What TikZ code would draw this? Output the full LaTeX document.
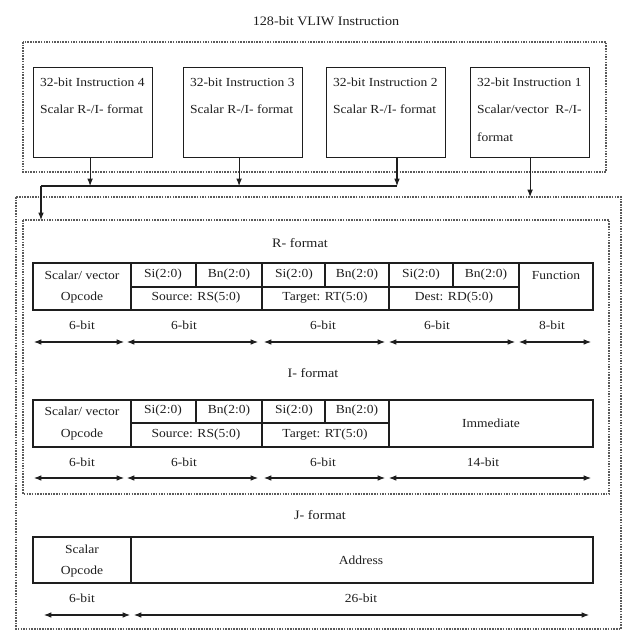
\documentclass[tikz,border=0pt]{standalone}
\usepackage{fontspec}
\setmainfont{Liberation Serif}[FakeStretch=1.1]
\usetikzlibrary{arrows.meta,positioning}
\definecolor{ink}{HTML}{1E1E1E}
\definecolor{dots}{HTML}{5A5A5A}

\begin{document}
\begin{tikzpicture}[x=0.03cm,y=-0.03cm,>={Latex[length=2.2mm,width=1.7mm]},line width=.8pt,every node/.style={font=\fontsize{10.5}{13}\selectfont,text=ink,inner sep=0pt},frame/.style={dots,densely dotted,line width=1.3pt},instr/.style={draw=ink,line width=1pt,minimum width=3.57cm,minimum height=2.7cm,anchor=north west},itext/.style={anchor=north west,align=left,font=\fontsize{10.5}{23.5}\selectfont,inner xsep=.2cm,inner ysep=.3cm},field/.style={draw=ink,line width=1pt},span/.style={<->,ink,line width=.9pt},feed/.style={->,ink,line width=.9pt},head/.style={font=\fontsize{11}{13}\selectfont}]
\path[use as bounding box] (0,0) rectangle (626,633);


\node[head] (title) at (326,21) {128-bit VLIW Instruction};
\draw[frame] (23,42) rectangle (606,172);
\node[instr] (i4) at (33,67) {};
\node[instr] (i3) at (183,67) {};
\node[instr] (i2) at (326,67) {};
\node[instr] (i1) at (470,67) {};
\node[itext] at (i4.north west) {32-bit Instruction 4\\Scalar R-/I- format};
\node[itext] at (i3.north west) {32-bit Instruction 3\\Scalar R-/I- format};
\node[itext] at (i2.north west) {32-bit Instruction 2\\Scalar R-/I- format};
\node[itext] at (i1.north west) {32-bit Instruction 1\\Scalar/vector\ \ R-/I-\\format};
\coordinate (busL) at (41,186);
\coordinate (busR) at (397,186);
\draw[ink,line width=1.4pt] (busL) -- (busR);
\draw[feed] ([xshift=-.09cm]i4.south) -- ([xshift=-.09cm]i4.south |- busL);
\draw[feed] ([xshift=-.12cm]i3.south) -- ([xshift=-.12cm]i3.south |- busL);
\draw[feed] (i2.south -| busR) -- (busR);
\coordinate (outNW) at (16,197);
\coordinate (inNW) at (23,220);
\draw[frame] (outNW) rectangle (621,629);
\draw[frame] (inNW) rectangle (609,494);
\draw[feed] (i1.south) -- (i1.south |- outNW);
\draw[feed] (busL) -- (busL |- inNW);

\node[head] (rfmt) at (300,243) {R- format};
\draw[field] (33,263) rectangle (593,310);
\draw[field] (131,287) -- (519,287);
\foreach \x in {131,262,389,519} \draw[field] (\x,263) -- (\x,310);
\foreach \x in {196,325,453} \draw[field] (\x,263) -- (\x,287);
\node (rop) at (82,275) {Scalar/ vector};
\node (ropc) at (82,298) {Opcode};
\foreach \x/\t [count=\i] in {163/Si(2:0),229/Bn(2:0),294/Si(2:0),357/Bn(2:0),421/Si(2:0),486/Bn(2:0)} \node (rsb\i) at (\x,275) {\t};
\node (rrs) at (196,298) {Source: RS(5:0)};
\node (rrt) at (325,298) {Target: RT(5:0)};
\node (rrd) at (454,298) {Dest: RD(5:0)};
\node (rfn) at (556,275) {Function};
\foreach \x/\t [count=\i] in {82/6-bit,184/6-bit,323/6-bit,437/6-bit,552/8-bit} \node (rw\i) at (\x,325) {\t};
\foreach \a/\b in {34/124,127/258,264/385,389/515,519/591} \draw[span] (\a,342) -- (\b,342);

\node[head] (ifmt) at (313,373) {I- format};
\draw[field] (33,400) rectangle (593,447);
\draw[field] (131,423) -- (389,423);
\foreach \x in {131,262,389} \draw[field] (\x,400) -- (\x,447);
\foreach \x in {196,325} \draw[field] (\x,400) -- (\x,423);
\node (iop) at (82,411) {Scalar/ vector};
\node (iopc) at (82,435) {Opcode};
\foreach \x/\t [count=\i] in {163/Si(2:0),229/Bn(2:0),294/Si(2:0),357/Bn(2:0)} \node (isb\i) at (\x,411) {\t};
\node (irs) at (196,435) {Source: RS(5:0)};
\node (irt) at (325,435) {Target: RT(5:0)};
\node (iimm) at (491,423) {Immediate};
\foreach \x/\t [count=\i] in {82/6-bit,184/6-bit,323/6-bit,483/14-bit} \node (iw\i) at (\x,462) {\t};
\foreach \a/\b in {34/124,127/258,264/385,389/591} \draw[span] (\a,478) -- (\b,478);

\node[head] (jfmt) at (320,515) {J- format};
\draw[field] (33,537) rectangle (593,583);
\draw[field] (131,537) -- (131,583);
\node (jop) at (82,549) {Scalar};
\node (jopc) at (82,572) {Opcode};
\node (jaddr) at (361,560) {Address};
\node (jw1) at (82,598) {6-bit};
\node (jw2) at (361,598) {26-bit};
\draw[span] (44,615) -- (130,615);
\draw[span] (134,615) -- (589,615);

\end{tikzpicture}
\end{document}
